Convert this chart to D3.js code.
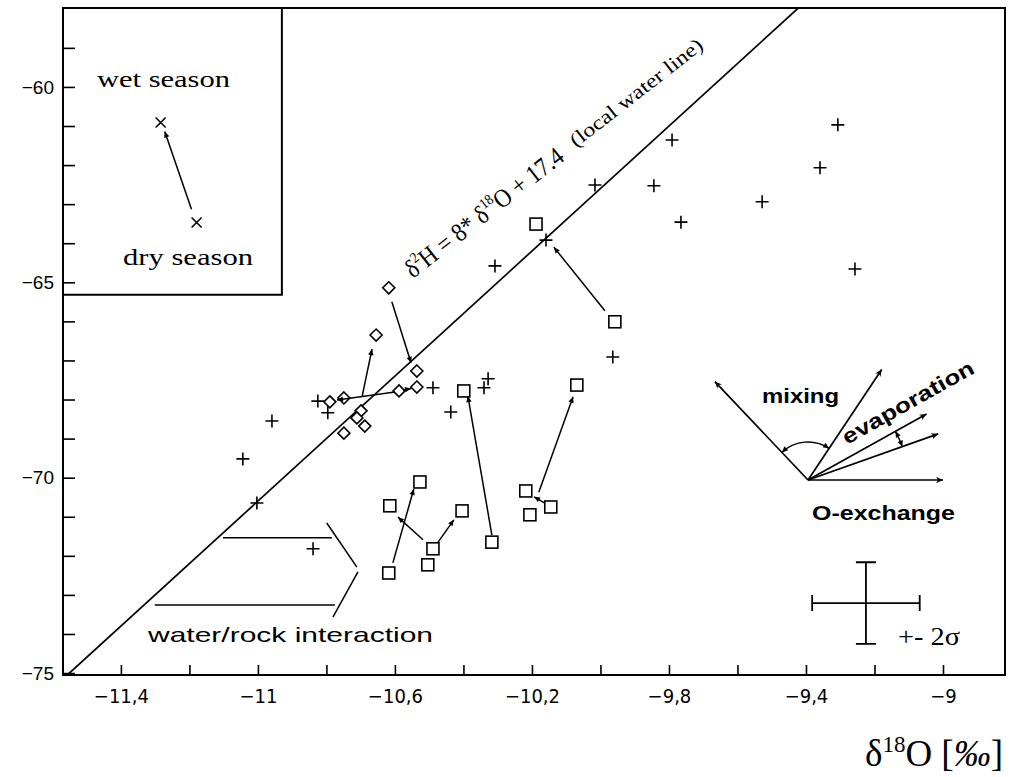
<!DOCTYPE html>
<html><head><meta charset="utf-8">
<script src="https://cdn.jsdelivr.net/npm/d3@7"></script>
<style>body{margin:0;background:#fff}</style>
</head><body><svg id="c" width="1012" height="777"></svg>
<script>
// ---------- data ----------
const xTickValues = [-11.4,-11.2,-11.0,-10.8,-10.6,-10.4,-10.2,-10.0,-9.8,-9.6,-9.4,-9.2,-9.0];
const xTickLabels = ["\u221211,4","","\u221211","","\u221210,6","","\u221210,2","","\u22129,8","","\u22129,4","","\u22129"];
const yTickValues = [-59,-60,-61,-62,-63,-64,-65,-66,-67,-68,-69,-70,-71,-72,-73,-74,-75];
const yTickLabels = ["","\u221260","","","","","\u221265","","","","","\u221270","","","","","\u221275"];

// local water line  d2H = 8*d18O + 17.4
const lwlSlope = 8, lwlIntercept = 17.4;

// plus markers
const plusPts = [
 [-9.307,-60.97],[-9.359,-62.07],[-9.528,-62.94],[-9.257,-64.66],[-9.791,-61.36],
 [-10.016,-62.51],[-9.844,-62.53],[-9.765,-63.46],[-10.159,-63.92],[-10.308,-64.58],
 [-9.964,-66.91],[-10.489,-67.70],[-10.340,-67.70],[-10.328,-67.47],[-10.437,-68.32],
 [-11.003,-70.65],[-10.839,-71.82],[-10.796,-68.34],[-10.959,-68.55],[-11.044,-69.52],[-10.825,-68.04]
];
// diamond markers
const diamondPts = [
 [-10.618,-65.14],[-10.655,-66.35],[-10.536,-67.27],[-10.588,-67.78],[-10.536,-67.68],
 [-10.749,-67.96],[-10.699,-68.29],[-10.711,-68.47],[-10.688,-68.68],[-10.749,-68.86],[-10.790,-68.06]
];
// square markers
const squarePts = [
 [-10.188,-63.51],[-9.958,-66.01],[-10.399,-67.78],[-10.069,-67.63],[-10.317,-71.65],
 [-10.218,-70.34],[-10.206,-70.95],[-10.145,-70.75],[-10.618,-72.44],[-10.615,-70.72],
 [-10.527,-70.11],[-10.404,-70.85],[-10.489,-71.82],[-10.504,-72.23]
];
// seasonal inset markers (wet, dry)
const crossPts = [[-11.284,-60.91],[-11.179,-63.47]];

// arrows [x1,y1,x2,y2] (head at second point)
const arrowSegs = [
 [-9.987,-65.73,-10.136,-64.10],
 [-10.317,-71.47,-10.387,-67.91],
 [-10.180,-70.37,-10.080,-67.93],
 [-10.162,-70.65,-10.194,-70.49],
 [-10.606,-72.18,-10.545,-70.29],
 [-10.518,-71.59,-10.591,-71.01],
 [-10.474,-71.65,-10.428,-71.08],
 [-10.609,-65.50,-10.553,-67.06],
 [-10.696,-67.93,-10.667,-66.71],
 [-10.600,-67.81,-10.769,-68.01],
 [-10.577,-67.76,-10.553,-67.72],
 [-11.194,-63.13,-11.272,-61.14]
];
// plain annotation lines (water/rock interaction)
const plainSegs = [
 [-11.102,-71.54,-10.784,-71.54],
 [-11.301,-73.26,-10.775,-73.26],
 [-10.799,-71.16,-10.711,-72.29],
 [-10.708,-72.41,-10.781,-73.57]
];
// process diagram
const procOrigin = [-9.394,-70.06];
const procEnds = [[-9.666,-67.54],[-9.179,-67.23],[-9.048,-68.37],[-9.014,-68.88],[-9.0,-70.06]];
// error cross (+- 2 sigma)
const errCenter = [-9.225,-73.21];
const errHalf = [0.157,1.045];
// inset box corner (right, bottom)
const insetCorner = [-10.930,-65.32];

// ---------- drawing ----------
const svg = d3.select('#c');
const x = d3.scaleLinear().domain([-11.569,-8.819]).range([63,1005]);
const y = d3.scaleLinear().domain([-75.05,-57.98]).range([675,8]);
const sans = "'Liberation Sans', Arial, Helvetica, sans-serif";
const serif = "'Liberation Serif', 'Times New Roman', serif";
const narrow = "'Liberation Sans Narrow', 'DejaVu Sans Condensed', 'Liberation Sans', sans-serif";

const defs = svg.append('defs');
defs.append('marker').attr('id','ah').attr('viewBox','0 0 10 10').attr('refX',10).attr('refY',5)
  .attr('markerWidth',10).attr('markerHeight',7).attr('markerUnits','userSpaceOnUse').attr('orient','auto')
  .append('path').attr('d','M0,0.5L10,5L0,9.5L3,5Z').attr('fill','#000');
defs.append('marker').attr('id','ahs').attr('viewBox','0 0 10 10').attr('refX',10).attr('refY',5)
  .attr('markerWidth',7).attr('markerHeight',6).attr('markerUnits','userSpaceOnUse').attr('orient','auto-start-reverse')
  .append('path').attr('d','M0,0.5L10,5L0,9.5Z').attr('fill','#000');
defs.append('clipPath').attr('id','plot').append('rect').attr('x',63).attr('y',8).attr('width',942).attr('height',667);

// axes
const xAxis = d3.axisBottom(x).tickValues(xTickValues).tickFormat((d,i)=>xTickLabels[i])
  .tickSizeInner(-10).tickSizeOuter(0).tickPadding(14);
const gx = svg.append('g').attr('transform','translate(0,675)').call(xAxis);
gx.select('.domain').remove();
gx.selectAll('line').attr('stroke','#000').attr('stroke-width',1.6);
gx.selectAll('text').attr('font-family',narrow).attr('font-size',20).attr('fill','#000');

const yAxis = d3.axisLeft(y).tickValues(yTickValues).tickFormat((d,i)=>yTickLabels[i])
  .tickSizeInner(-12).tickSizeOuter(0).tickPadding(9);
const gy = svg.append('g').attr('transform','translate(63,0)').call(yAxis);
gy.select('.domain').remove();
gy.selectAll('line').attr('stroke','#000').attr('stroke-width',1.6);
gy.selectAll('text').attr('font-family',sans).attr('font-size',19).attr('fill','#000');

// frame
svg.append('rect').attr('x',63).attr('y',8).attr('width',942).attr('height',667)
  .attr('fill','none').attr('stroke','#000').attr('stroke-width',2);

// inset box
svg.append('path').attr('d',`M${x(-11.569)},${y(insetCorner[1])}H${x(insetCorner[0])}V8`)
  .attr('fill','none').attr('stroke','#000').attr('stroke-width',2);

// local water line
const yLo = -75.05, yHi = -57.98;
svg.append('line').attr('clip-path','url(#plot)')
  .attr('x1',x((yLo-lwlIntercept)/lwlSlope)).attr('y1',y(yLo))
  .attr('x2',x((yHi-lwlIntercept)/lwlSlope)).attr('y2',y(yHi))
  .attr('stroke','#000').attr('stroke-width',1.7);

// markers
const mk = svg.append('g').attr('stroke','#000').attr('stroke-width',1.6).attr('fill','none');
mk.selectAll('.p').data(plusPts).join('path')
  .attr('d',d=>`M${x(d[0])-6.5},${y(d[1])}h13M${x(d[0])},${y(d[1])-6.5}v13`);
mk.selectAll('.d').data(diamondPts).join('path')
  .attr('d',d=>`M${x(d[0])},${y(d[1])-6}l6,6l-6,6l-6,-6Z`).attr('fill','#fff');
mk.selectAll('.s').data(squarePts).join('rect')
  .attr('x',d=>x(d[0])-6).attr('y',d=>y(d[1])-6).attr('width',12).attr('height',12).attr('fill','#fff');
mk.selectAll('.x').data(crossPts).join('path')
  .attr('d',d=>`M${x(d[0])-5},${y(d[1])-5}l10,10M${x(d[0])-5},${y(d[1])+5}l10,-10`);

// arrows
const ar = svg.append('g').attr('stroke','#000').attr('stroke-width',1.5);
ar.selectAll('line').data(arrowSegs).join('line')
  .attr('x1',d=>x(d[0])).attr('y1',d=>y(d[1])).attr('x2',d=>x(d[2])).attr('y2',d=>y(d[3]))
  .attr('marker-end','url(#ahs)');
const pl = svg.append('g').attr('stroke','#000').attr('stroke-width',1.5);
pl.selectAll('line').data(plainSegs).join('line')
  .attr('x1',d=>x(d[0])).attr('y1',d=>y(d[1])).attr('x2',d=>x(d[2])).attr('y2',d=>y(d[3]));

// process diagram
const ox = x(procOrigin[0]), oy = y(procOrigin[1]);
const pg = svg.append('g').attr('stroke','#000').attr('stroke-width',1.7).attr('fill','none');
pg.selectAll('line').data(procEnds).join('line')
  .attr('x1',ox).attr('y1',oy).attr('x2',d=>x(d[0])).attr('y2',d=>y(d[1]))
  .attr('marker-end','url(#ah)');
function arcPath(e1,e2,r){
  const a1 = Math.atan2(y(e1[1])-oy, x(e1[0])-ox), a2 = Math.atan2(y(e2[1])-oy, x(e2[0])-ox);
  return `M${ox+r*Math.cos(a1)},${oy+r*Math.sin(a1)}A${r},${r} 0 0 1 ${ox+r*Math.cos(a2)},${oy+r*Math.sin(a2)}`;
}
pg.append('path').attr('d',arcPath(procEnds[0],procEnds[1],38)).attr('stroke-width',1.4)
  .attr('marker-start','url(#ahs)').attr('marker-end','url(#ahs)');
pg.append('path').attr('d',arcPath(procEnds[2],procEnds[3],100)).attr('stroke-width',1.4)
  .attr('marker-start','url(#ahs)').attr('marker-end','url(#ahs)');

// error cross
const eg = svg.append('g').attr('stroke','#000').attr('stroke-width',1.8);
const ecx = x(errCenter[0]), ecy = y(errCenter[1]);
const exl = x(errCenter[0]-errHalf[0]), exr = x(errCenter[0]+errHalf[0]);
const eyt = y(errCenter[1]+errHalf[1]), eyb = y(errCenter[1]-errHalf[1]);
eg.append('path').attr('fill','none').attr('d',
  `M${exl},${ecy}H${exr}M${exl},${ecy-8}v16M${exr},${ecy-8}v16M${ecx},${eyt}V${eyb}M${ecx-10},${eyt}h20M${ecx-10},${eyb}h20`);

// texts
svg.append('text').attr('x',97).attr('y',87).attr('font-family',serif).attr('font-size',24)
  .attr('textLength',133).attr('lengthAdjust','spacingAndGlyphs').text('wet season');
svg.append('text').attr('x',123).attr('y',265).attr('font-family',serif).attr('font-size',24)
  .attr('textLength',130).attr('lengthAdjust','spacingAndGlyphs').text('dry season');

const t1 = svg.append('text').attr('transform','translate(413,279) rotate(-38)')
  .attr('font-family',serif).attr('font-size',26).attr('textLength',194).attr('lengthAdjust','spacingAndGlyphs');
t1.append('tspan').text('\u03B4');
t1.append('tspan').attr('font-size',15).attr('dy',-11).text('2');
t1.append('tspan').attr('dy',11).text('H = 8* \u03B4');
t1.append('tspan').attr('font-size',15).attr('dy',-11).text('18');
t1.append('tspan').attr('dy',11).text('O + 17.4');
svg.append('text').attr('transform','translate(576,148) rotate(-38)')
  .attr('font-family',serif).attr('font-size',20).attr('textLength',163).attr('lengthAdjust','spacingAndGlyphs')
  .text('(local water line)');

svg.append('text').attr('x',148).attr('y',642).attr('font-family',sans).attr('font-size',21)
  .attr('textLength',285).attr('lengthAdjust','spacingAndGlyphs').text('water/rock interaction');
svg.append('text').attr('x',762).attr('y',403).attr('font-family',sans).attr('font-size',21).attr('font-weight','bold')
  .attr('textLength',77).attr('lengthAdjust','spacingAndGlyphs').text('mixing');
svg.append('text').attr('transform','translate(847,445) rotate(-29.4)').attr('font-family',sans).attr('font-size',21)
  .attr('font-weight','bold').attr('textLength',148).attr('lengthAdjust','spacingAndGlyphs').text('evaporation');
svg.append('text').attr('x',812).attr('y',520).attr('font-family',sans).attr('font-size',21).attr('font-weight','bold')
  .attr('textLength',143).attr('lengthAdjust','spacingAndGlyphs').text('O-exchange');
svg.append('text').attr('x',898).attr('y',645).attr('font-family',serif).attr('font-size',25)
  .attr('textLength',62).attr('lengthAdjust','spacingAndGlyphs').text('+- 2\u03C3');

const xt = svg.append('text').attr('x',1003).attr('y',766).attr('text-anchor','end')
  .attr('font-family',serif).attr('font-size',37);
xt.append('tspan').text('\u03B4');
xt.append('tspan').attr('font-size',23).attr('dy',-14).text('18');
xt.append('tspan').attr('dy',14).text('O [');
xt.append('tspan').attr('font-style','italic').text('\u2030');
xt.append('tspan').text(']');
</script></body></html>
